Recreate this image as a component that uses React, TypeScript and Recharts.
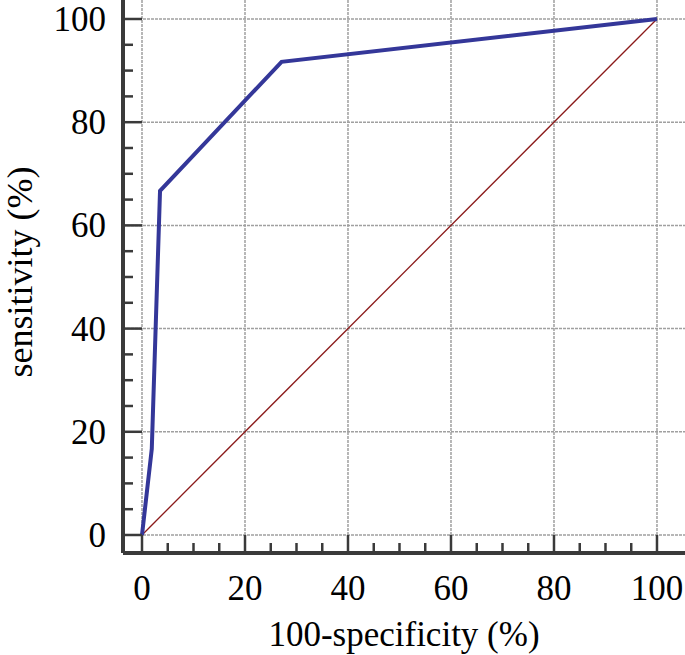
import {
  CartesianGrid,
  ComposedChart,
  Label,
  Line,
  XAxis,
  YAxis,
} from "recharts";

// ROC curve
const rocX = [0, 1.9, 3.5, 27.1, 100];
const rocY = [0, 16.7, 66.7, 91.7, 100];
const diagX = [0, 100];
const diagY = [0, 100];

const majorTicks = [0, 20, 40, 60, 80, 100];
const allTicks = [0, 5, 10, 15, 20, 25, 30, 35, 40, 45, 50, 55, 60, 65, 70, 75, 80, 85, 90, 95, 100];

const roc = rocX.map((x, i) => ({ x, y: rocY[i] }));
const diag = diagX.map((x, i) => ({ x, y: diagY[i] }));

const FONT = "'Liberation Serif', 'DejaVu Serif', serif";
const AXIS_COLOR = "#3a3a3a";

const isMajor = (v: number) => v % 20 === 0;

function XTick(props: any) {
  const { x, y, payload } = props;
  const v = Number(payload.value);
  const len = isMajor(v) ? 18 : 10;
  return (
    <g>
      <line x1={x} x2={x} y1={y - len} y2={y} stroke={AXIS_COLOR} strokeWidth={2.5} />
      {isMajor(v) && (
        <text x={x} y={y + 47} textAnchor="middle" fontFamily={FONT} fontSize={35} fill="#000">
          {v}
        </text>
      )}
    </g>
  );
}

function YTick(props: any) {
  const { x, y, payload } = props;
  const v = Number(payload.value);
  const len = isMajor(v) ? 19 : 10;
  return (
    <g>
      <line x1={x} x2={x + len} y1={y} y2={y} stroke={AXIS_COLOR} strokeWidth={2.5} />
      {isMajor(v) && (
        <text x={x - 17} y={y + 12} textAnchor="end" fontFamily={FONT} fontSize={35} fill="#000">
          {v}
        </text>
      )}
    </g>
  );
}

export default function App() {
  return (
    <div style={{ position: "absolute", left: 0, top: 0, background: "#fff" }}>
      <ComposedChart
        width={685}
        height={655}
        margin={{ top: 0, right: 0, left: 63, bottom: 0 }}
      >
        <CartesianGrid
          stroke="#a0a0a0"
          strokeDasharray="3 1"
          strokeWidth={1.5}
          verticalValues={majorTicks}
          horizontalValues={majorTicks}
        />
        <XAxis
          type="number"
          dataKey="x"
          domain={[-3.69, 105.44]}
          ticks={allTicks}
          interval={0}
          allowDataOverflow
          height={102}
          tickSize={0}
          tickMargin={0}
          tickLine={false}
          tick={<XTick />}
          axisLine={{ stroke: AXIS_COLOR, strokeWidth: 4 }}
        >
          <Label
            content={() => (
              <text x={404} y={646} textAnchor="middle" fontFamily={FONT} fontSize={35} fill="#000">
                100-specificity (%)
              </text>
            )}
          />
        </XAxis>
        <YAxis
          type="number"
          domain={[-3.49, 103.68]}
          ticks={allTicks}
          interval={0}
          allowDataOverflow
          width={60}
          tickSize={0}
          tickMargin={0}
          tickLine={false}
          tick={<YTick />}
          axisLine={{ stroke: AXIS_COLOR, strokeWidth: 4 }}
        >
          <Label
            content={() => (
              <text
                x={32}
                y={272}
                transform="rotate(-90, 32, 272)"
                textAnchor="middle"
                fontFamily={FONT}
                fontSize={36}
                fill="#000"
              >
                sensitivity (%)
              </text>
            )}
          />
        </YAxis>
        <Line
          data={diag}
          dataKey="y"
          type="linear"
          stroke="#8b1a1a"
          strokeWidth={1.3}
          dot={false}
          activeDot={false}
          isAnimationActive={false}
        />
        <Line
          data={roc}
          dataKey="y"
          type="linear"
          stroke="#343799"
          strokeWidth={4}
          strokeLinejoin="miter"
          dot={false}
          activeDot={false}
          isAnimationActive={false}
        />
      </ComposedChart>
    </div>
  );
}
